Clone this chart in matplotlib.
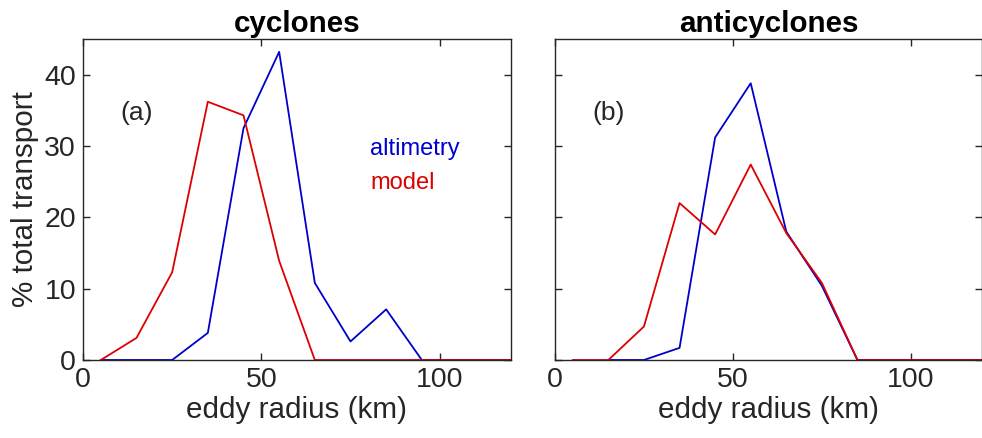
import matplotlib
matplotlib.use("Agg")
import matplotlib.pyplot as plt
import numpy as np

plt.rcParams['font.family'] = ['Liberation Sans', 'DejaVu Sans']

radius = [5, 15, 25, 35, 45, 55, 65, 75, 85, 95, 105, 115, 125]
cyc_alt = [0, 0, 0, 3.8, 32.5, 43.2, 10.8, 2.6, 7.1, 0, 0, 0, 0]
cyc_mod = [0, 3.1, 12.3, 36.2, 34.3, 13.9, 0, 0, 0, 0, 0, 0, 0]
anti_alt = [np.nan, 0, 0, 1.7, 31.2, 38.8, 18.0, 10.4, 0, 0, 0, 0, 0]
anti_mod = [0, 0, 4.7, 22.0, 17.6, 27.4, 17.8, 10.8, 0, 0, 0, 0, 0]

titles = ['cyclones', 'anticyclones']
panel_labels = ['(a)', '(b)']
xticks = [0, 50, 100]
yticks = [0, 10, 20, 30, 40]

fig = plt.figure(figsize=(9.82, 4.38), dpi=100)
ax1 = fig.add_axes([83/982, 78/438, 428/982, 321/438])
ax2 = fig.add_axes([555/982, 78/438, 427/982, 321/438])

blue = '#0000cc'
red = '#dd0000'
edge = '#262626'

for i, (ax, alt, mod) in enumerate([(ax1, cyc_alt, cyc_mod), (ax2, anti_alt, anti_mod)]):
    ax.plot(radius, alt, color=blue, lw=1.3)
    ax.plot(radius, mod, color=red, lw=1.3)
    ax.set_xlim(0, 120)
    ax.set_ylim(0, 45)
    ax.set_xticks(xticks)
    ax.set_yticks(yticks)
    ax.tick_params(direction='in', top=True, right=True, length=5, width=1,
                   labelsize=20.5, colors=edge, pad=5)
    for s in ax.spines.values():
        s.set_color(edge)
        s.set_linewidth(1)
    ax.set_title(titles[i], fontsize=21.3, fontweight='bold', pad=5)
    ax.set_xlabel('eddy radius (km)', fontsize=21.3, color=edge, labelpad=2)
    ax.text(15, 34.6, panel_labels[i], fontsize=19, ha='center', va='center', color=edge)

ax1.set_ylabel('% total transport', fontsize=21.3, color=edge, labelpad=4)
ax2.set_yticklabels([])
ax1.text(80.5, 29.6, 'altimetry', color=blue, fontsize=17, va='center', ha='left')
ax1.text(80.5, 24.8, 'model', color=red, fontsize=17, va='center', ha='left')

fig.savefig('out.png', dpi=100)
